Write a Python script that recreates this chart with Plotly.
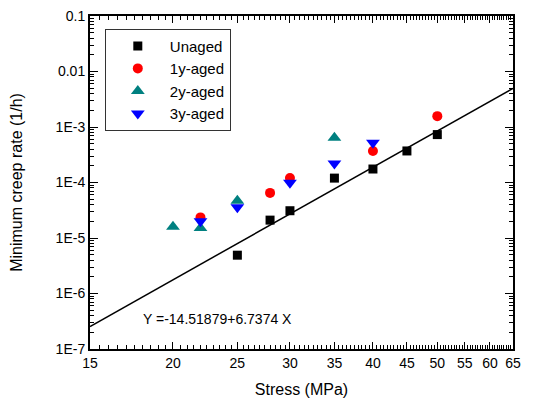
import numpy as np
import plotly.graph_objects as go

# Data
unaged_x = [25, 28, 30, 35, 40, 45, 50]
unaged_y = [4.9e-6, 2.1e-5, 3.1e-5, 1.2e-4, 1.75e-4, 3.7e-4, 7.3e-4]
aged1_x = [22, 28, 30, 40, 50]
aged1_y = [2.35e-5, 6.5e-5, 1.2e-4, 3.7e-4, 1.57e-3]
aged2_x = [20, 22, 25, 35]
aged2_y = [1.6e-5, 1.52e-5, 4.7e-5, 6.4e-4]
aged3_x = [22, 25, 30, 35, 40]
aged3_y = [2.0e-5, 3.6e-5, 9.9e-5, 2.2e-4, 5.2e-4]

fit_a = -14.51879
fit_b = 6.7374
fit_x = [15, 65]

x_ticks = [15, 20, 25, 30, 35, 40, 45, 50, 55, 60, 65]
y_ticks = [1e-7, 1e-6, 1e-5, 1e-4, 1e-3, 1e-2, 1e-1]
y_ticklabels = ["1E-7", "1E-6", "1E-5", "1E-4", "1E-3", "0.01", "0.1"]

fit_y = [10 ** (fit_a + fit_b * np.log10(x)) for x in fit_x]

FONT = "Liberation Sans, Arial, sans-serif"

fig = go.Figure()
fig.add_trace(go.Scatter(x=fit_x, y=fit_y, mode="lines",
                         line=dict(color="black", width=1.5), showlegend=False))
fig.add_trace(go.Scatter(x=unaged_x, y=unaged_y, mode="markers", name="Unaged",
                         marker=dict(symbol="square", size=9, color="black")))
fig.add_trace(go.Scatter(x=aged1_x, y=aged1_y, mode="markers", name="1y-aged",
                         marker=dict(symbol="circle", size=10, color="#ff0000")))
fig.add_trace(go.Scatter(x=aged2_x, y=aged2_y, mode="markers", name="2y-aged",
                         marker=dict(symbol="triangle-up", size=12, color="#008080")))
fig.add_trace(go.Scatter(x=aged3_x, y=aged3_y, mode="markers", name="3y-aged",
                         marker=dict(symbol="triangle-down", size=12, color="#0000ff")))

minor_x = [v / 2 for v in range(30, 131) if v % 10 != 0]
minor_y = [m * 10 ** e for e in range(-7, -1) for m in range(2, 10)]

fig.update_layout(
    width=553, height=401,
    margin=dict(l=82, r=48, t=8, b=60),
    paper_bgcolor="white", plot_bgcolor="white",
    font=dict(family=FONT, size=14, color="black"),
    xaxis=dict(type="log", range=[np.log10(15), np.log10(65)], automargin=False,
               tickmode="array", tickvals=x_ticks, ticktext=[str(v) for v in x_ticks],
               ticks="inside", ticklen=7, tickwidth=1, tickcolor="black",
               showline=True, linecolor="black", linewidth=2, mirror="ticks",
               showgrid=False, zeroline=False, ticklabeloverflow="allow",
               tickfont=dict(size=14),
               title=dict(text="Stress (MPa)", font=dict(size=16), standoff=14),
               minor=dict(tickmode="array", tickvals=minor_x, ticks="inside",
                          ticklen=4, tickcolor="black", showgrid=False)),
    yaxis=dict(type="log", range=[-7, -1], automargin=False,
               tickmode="array", tickvals=y_ticks, ticktext=y_ticklabels,
               ticks="inside", ticklen=8, tickwidth=1, tickcolor="black",
               showline=True, linecolor="black", linewidth=2, mirror="ticks",
               showgrid=False, zeroline=False, ticklabeloverflow="allow",
               tickfont=dict(size=14),
               title=dict(text="Minimum creep rate (1/h)", font=dict(size=16), standoff=30),
               minor=dict(tickmode="array", tickvals=minor_y, ticks="inside",
                          ticklen=4, tickcolor="black", showgrid=False)),
    legend=dict(x=0.035, y=0.962, xanchor="left", yanchor="top",
                bordercolor="#333333", borderwidth=1, bgcolor="white",
                font=dict(size=15), itemwidth=54,
                entrywidth=80, entrywidthmode="pixels"),
    annotations=[dict(x=np.log10(23.3), y=np.log10(3.5e-7), xref="x", yref="y",
                      text="Y =-14.51879+6.7374 X", showarrow=False,
                      font=dict(size=14))],
)

fig.write_html("out.html")
